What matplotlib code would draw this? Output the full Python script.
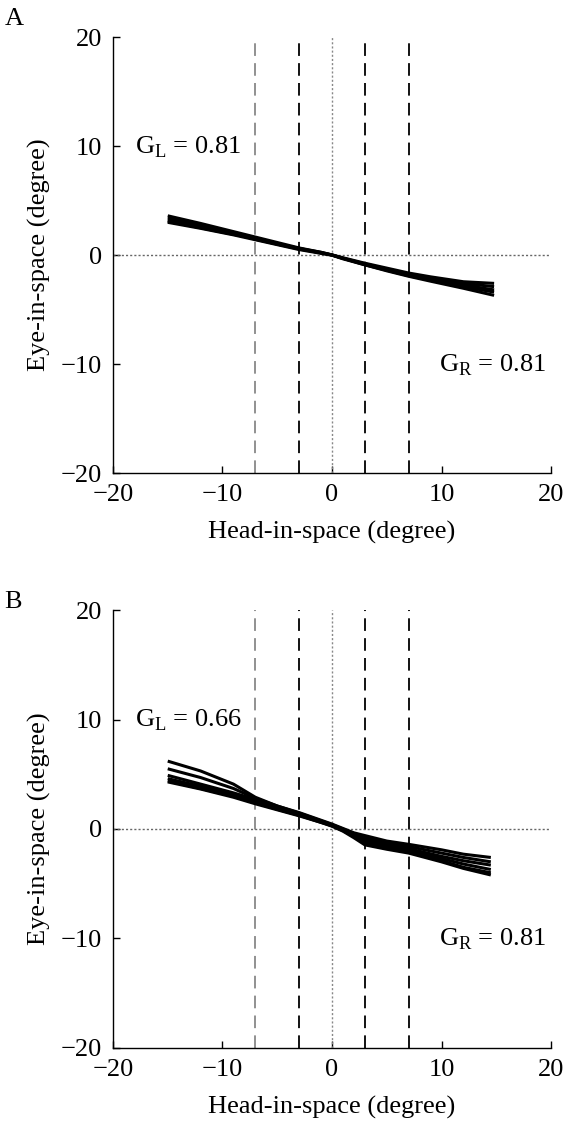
import matplotlib
matplotlib.use("Agg")
import matplotlib.pyplot as plt

plt.rcParams['font.family'] = ['Liberation Serif', 'DejaVu Serif']
plt.rcParams['mathtext.fontset'] = 'custom'
plt.rcParams['mathtext.rm'] = 'Liberation Serif'
plt.rcParams['axes.unicode_minus'] = True

# panel A traces (head-in-space vs eye-in-space, degrees)
head_a = [-15, -12, -9, -7, -5, -3, -1, 0, 1, 3, 5, 7, 9, 12, 14.8]
eye_a = [
    [3.6, 2.9, 2.15, 1.65, 1.15, 0.65, 0.25, 0.02, -0.25, -0.75, -1.2, -1.65, -2.0, -2.45, -2.6],
    [3.4, 2.75, 2.05, 1.55, 1.05, 0.6, 0.2, 0.0, -0.3, -0.8, -1.3, -1.75, -2.1, -2.6, -2.9],
    [3.2, 2.6, 1.95, 1.45, 1.0, 0.55, 0.2, 0.0, -0.3, -0.85, -1.35, -1.8, -2.2, -2.75, -3.2],
    [3.0, 2.45, 1.85, 1.4, 0.95, 0.5, 0.15, -0.02, -0.35, -0.9, -1.4, -1.9, -2.3, -2.9, -3.4],
    [3.1, 2.5, 1.9, 1.5, 1.0, 0.6, 0.25, 0.0, -0.3, -0.9, -1.45, -1.95, -2.4, -3.05, -3.7],
]

# panel B traces
head_b = [-15, -12, -9, -7, -5, -3, -1, 0, 1, 2, 3, 5, 7, 10, 12, 14.5]
eye_b = [
    [6.2, 5.3, 4.1, 2.9, 2.1, 1.5, 0.8, 0.45, 0.05, -0.35, -0.6, -1.1, -1.4, -1.9, -2.3, -2.6],
    [5.5, 4.7, 3.7, 2.8, 2.1, 1.45, 0.75, 0.4, 0.0, -0.4, -0.75, -1.25, -1.6, -2.2, -2.6, -3.0],
    [4.9, 4.1, 3.3, 2.7, 2.0, 1.4, 0.7, 0.35, -0.05, -0.5, -0.95, -1.4, -1.8, -2.5, -2.9, -3.3],
    [4.6, 3.9, 3.1, 2.5, 1.9, 1.3, 0.65, 0.3, -0.1, -0.6, -1.1, -1.55, -1.95, -2.7, -3.2, -3.7],
    [4.3, 3.65, 2.9, 2.3, 1.75, 1.2, 0.6, 0.3, -0.15, -0.7, -1.3, -1.75, -2.1, -2.9, -3.5, -4.0],
    [4.4, 3.7, 3.0, 2.4, 1.8, 1.25, 0.6, 0.25, -0.2, -0.8, -1.45, -1.85, -2.2, -3.0, -3.6, -4.2],
]

gains_l = ['0.81', '0.66']
gains_r = ['0.81', '0.81']
panel_names = ['A', 'B']
ticks = [-20, -10, 0, 10, 20]

# vertical reference lines: position, colour, style
vlines = [(-7, '#888888', 'dash'), (-3, 'black', 'dash'), (0, '#888888', 'dot'),
          (3, 'black', 'dash'), (7, 'black', 'dash')]

fs = 19
fig = plt.figure(figsize=(5.66, 11.23), dpi=100)
rects = [[0.1996, 0.5788, 0.774, 0.3882], [0.1996, 0.0668, 0.774, 0.39]]

for i, (heads, traces) in enumerate([(head_a, eye_a), (head_b, eye_b)]):
    ax = fig.add_axes(rects[i])
    for xv, col, st in vlines:
        if st == 'dash':
            ax.axvline(xv, color=col, lw=1.3, dashes=(7, 4))
        else:
            ax.axvline(xv, color=col, lw=1.0, dashes=(1.5, 1.5))
    ax.axhline(0, color='#666666', lw=1.0, dashes=(1.5, 1.5))
    for tr in traces:
        ax.plot(heads, tr, color='black', lw=2.2, solid_capstyle='butt')

    ax.set_xlim(-20, 20)
    ax.set_ylim(-20, 20)
    ax.set_xticks(ticks)
    ax.set_yticks(ticks)
    ax.spines['top'].set_visible(False)
    ax.spines['right'].set_visible(False)
    ax.spines['left'].set_linewidth(1.0)
    ax.spines['bottom'].set_linewidth(1.0)
    ax.tick_params(direction='in', length=5, width=1.0, labelsize=fs, pad=8)
    ax.set_xlabel('Head-in-space (degree)', fontsize=fs, labelpad=11)
    ax.set_ylabel('Eye-in-space (degree)', fontsize=fs, labelpad=7)

    ax.text(-18, 9.9, r'G$_\mathrm{L}$ = ' + gains_l[i], fontsize=fs, va='center', ha='left')
    ax.text(9.8, -10.1, r'G$_\mathrm{R}$ = ' + gains_r[i], fontsize=fs, va='center', ha='left')

fig.text(0.008, 0.983, panel_names[0], fontsize=fs, va='center')
fig.text(0.008, 0.464, panel_names[1], fontsize=fs, va='center')

fig.savefig('out.png', dpi=100)
